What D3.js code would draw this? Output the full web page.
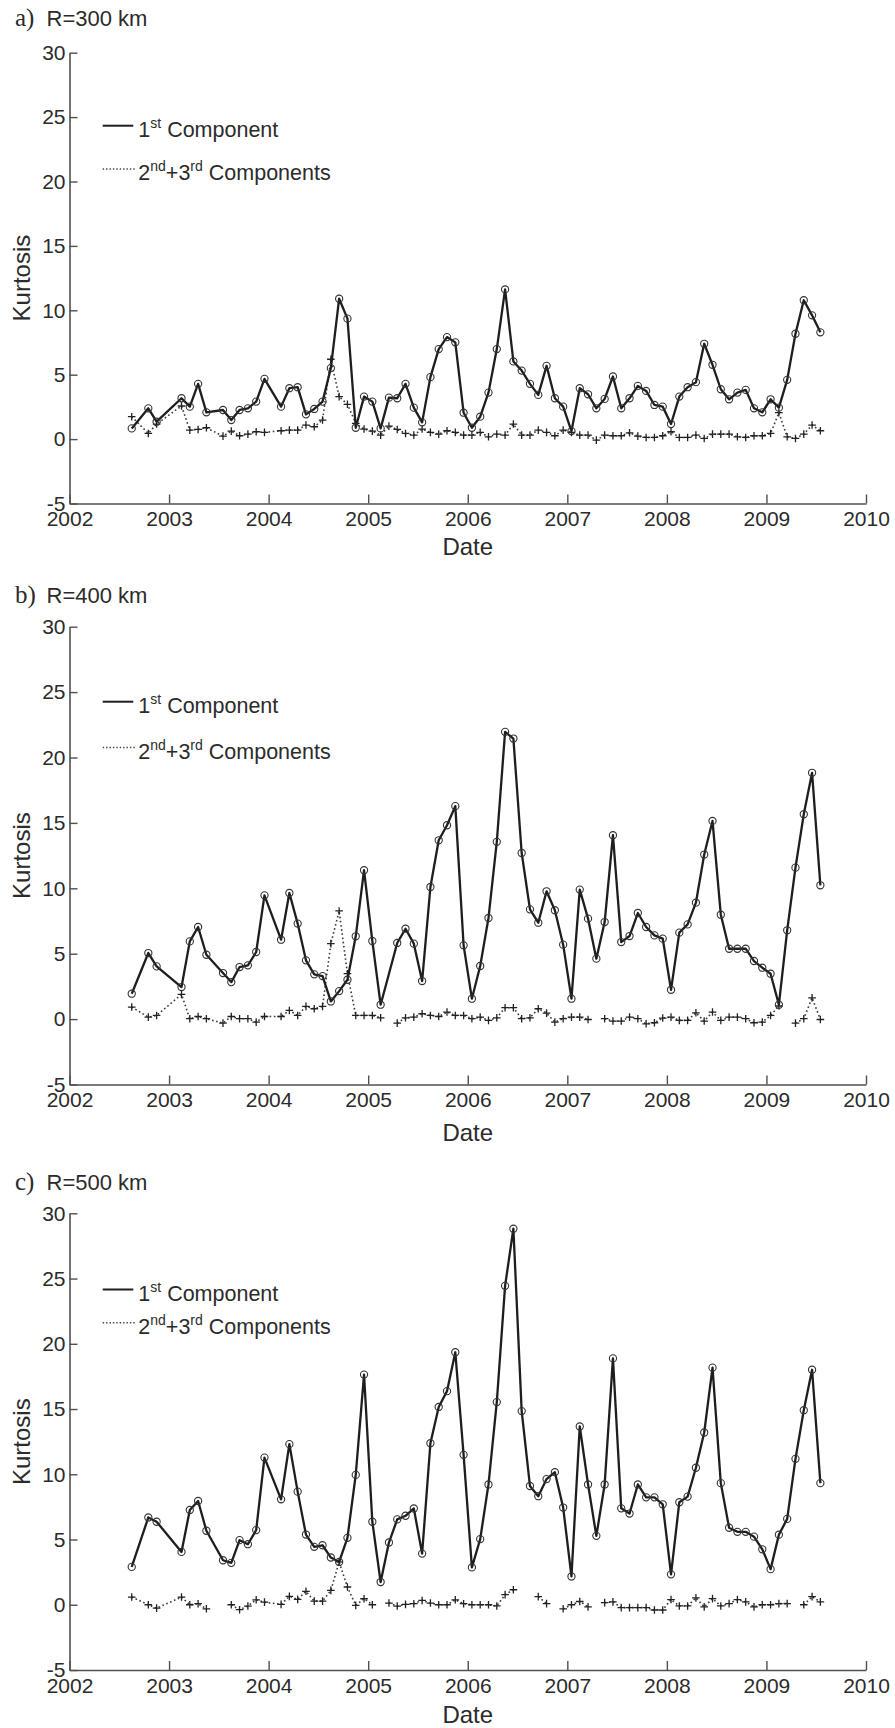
<!DOCTYPE html>
<html><head><meta charset="utf-8">
<script src="https://cdn.jsdelivr.net/npm/d3@7"></script>
<style>body{margin:0;background:#fff} svg{display:block}</style>
</head><body>
<svg id="c" width="895" height="1728"></svg>
<script>
// ---- data ----
const months = [
 "2002-08","2002-10","2002-11",
 "2003-02","2003-03","2003-04","2003-05","2003-07","2003-08","2003-09","2003-10","2003-11","2003-12",
 "2004-02","2004-03","2004-04","2004-05","2004-06","2004-07","2004-08","2004-09","2004-10","2004-11","2004-12",
 "2005-01","2005-02","2005-03","2005-04","2005-05","2005-06","2005-07","2005-08","2005-09","2005-10","2005-11","2005-12",
 "2006-01","2006-02","2006-03","2006-04","2006-05","2006-06","2006-07","2006-08","2006-09","2006-10","2006-11","2006-12",
 "2007-01","2007-02","2007-03","2007-04","2007-05","2007-06","2007-07","2007-08","2007-09","2007-10","2007-11","2007-12",
 "2008-01","2008-02","2008-03","2008-04","2008-05","2008-06","2008-07","2008-08","2008-09","2008-10","2008-11","2008-12",
 "2009-01","2009-02","2009-03","2009-04","2009-05","2009-06","2009-07"
];
const xTicks = [2002,2003,2004,2005,2006,2007,2008,2009,2010];
const yTicks = [-5,0,5,10,15,20,25,30];
const seriesNames = ["1st Component","2nd+3rd Components"];
const panelTitles = ["R=300 km","R=400 km","R=500 km"];
const panelLetters = ["a)","b)","c)"];

const first300 = [0.83,2.39,1.35,
 3.17,2.52,4.29,2.08,2.26,1.48,2.26,2.39,2.91,4.68,
 2.52,3.95,4.03,1.92,2.34,2.91,5.51,10.9,9.35,0.88,3.30,
 2.91,0.83,3.22,3.17,4.29,2.44,1.30,4.81,6.99,7.92,7.51,2.05,
 0.88,1.74,3.61,6.99,11.62,6.03,5.32,4.29,3.43,5.69,3.17,2.52,
 0.62,3.95,3.48,2.39,3.12,4.86,2.39,3.17,4.13,3.74,2.65,2.52,
 1.17,3.30,4.03,4.42,7.40,5.77,3.87,3.09,3.61,3.82,2.39,2.08,
 3.09,2.44,4.60,8.18,10.78,9.61,8.29];
const second300 = [1.74,0.44,1.17,
 2.57,0.70,0.75,0.88,0.23,0.62,0.26,0.39,0.57,0.52,
 0.65,0.70,0.70,1.09,0.96,1.48,6.2,3.30,2.70,1.22,0.78,
 0.62,0.31,1.01,0.75,0.44,0.31,0.78,0.52,0.39,0.65,0.52,0.31,
 0.31,0.52,0.18,0.39,0.31,1.17,0.31,0.31,0.70,0.52,0.26,0.70,
 0.52,0.31,0.31,-0.08,0.31,0.26,0.26,0.49,0.23,0.13,0.13,0.26,
 0.57,0.13,0.13,0.31,0.05,0.39,0.39,0.39,0.18,0.13,0.26,0.26,
 0.44,2.05,0.18,0.05,0.39,1.09,0.65];
const first400 = [1.94,5.05,4.03,
 2.45,5.94,7.04,4.92,3.52,2.83,3.98,4.11,5.13,9.46,
 6.07,9.64,7.30,4.49,3.42,3.29,1.35,2.14,3.01,6.33,11.38,
 5.97,1.10,null,5.82,6.91,5.77,2.91,10.1,13.67,14.82,16.28,5.64,
 1.56,4.06,7.73,13.55,21.96,21.45,12.70,8.39,7.37,9.77,8.32,5.69,
 1.56,9.90,7.68,4.62,7.42,14.06,5.89,6.35,8.11,7.04,6.40,6.15,
 2.24,6.61,7.24,8.90,12.58,15.15,7.98,5.38,5.38,5.38,4.44,3.93,
 3.47,1.10,6.79,11.58,15.66,18.83,10.23];
const second400 = [0.92,0.15,0.28,
 1.89,0.03,0.20,0.03,-0.31,0.20,0.03,0.03,-0.23,0.20,
 0.20,0.66,0.28,0.97,0.79,0.97,5.77,8.27,3.47,0.28,0.28,
 0.28,0.10,null,-0.31,0.10,0.15,0.41,0.28,0.20,0.54,0.28,0.28,
 0.03,0.15,-0.10,0.10,0.87,0.87,0.03,0.10,0.79,0.46,-0.23,0.03,
 0.15,0.15,-0.03,null,0.03,-0.15,-0.15,0.15,0.03,-0.36,-0.28,0.08,
 0.15,-0.10,-0.10,0.48,-0.15,0.54,-0.10,0.15,0.15,0.03,-0.28,-0.23,
 0.28,1.0,null,-0.31,0.03,1.63,-0.03];
const first500 = [2.90,6.69,6.36,
 4.05,7.26,7.95,5.67,3.41,3.21,4.95,4.64,5.72,11.28,
 8.08,12.31,8.67,5.38,4.44,4.56,3.62,3.28,5.13,9.95,17.64,
 6.36,1.74,4.77,6.54,6.82,7.38,3.92,12.38,15.16,16.37,19.35,11.49,
 2.86,5.03,9.22,15.53,24.44,28.82,14.84,9.10,8.32,9.63,10.16,7.45,
 2.17,13.66,9.22,5.28,9.22,18.88,7.39,6.99,9.22,8.23,8.23,7.70,
 2.33,7.86,8.29,10.50,13.20,18.17,9.32,5.90,5.59,5.59,5.22,4.25,
 2.73,5.37,6.58,11.18,14.91,18.01,9.32];
const second500 = [0.59,0.0,-0.26,
 0.59,0.0,0.08,-0.31,null,0.0,-0.38,-0.10,0.38,0.20,
 0.03,0.64,0.41,1.03,0.28,0.28,1.10,3.28,1.36,-0.05,0.46,
 0.0,null,0.13,-0.10,0.03,0.08,0.33,0.13,0.0,0.0,0.38,0.08,
 0.0,0.0,0.0,-0.09,0.78,1.15,null,null,0.62,0.09,null,-0.31,
 0.0,0.25,-0.16,null,0.16,0.22,-0.22,-0.22,-0.22,-0.22,-0.40,-0.40,
 0.40,-0.09,-0.09,0.53,-0.16,0.47,-0.09,0.09,0.40,0.22,-0.16,0.0,
 0.0,0.09,0.09,null,0.0,0.62,0.22];

// ---- layout ----
const svg = d3.select('#c');
const x = d3.scaleLinear().domain([2002,2010]).range([69.5,866]);
const toT = m => { const p = m.split('-').map(Number); return p[0] + (p[1]-0.5)/12; };
const times = months.map(toT);

const panels = [
 {first:first300, second:second300, top:52.7,  bottom:503.5, titleY:26,   dateY:555,   leg1:125.7, leg2:169},
 {first:first400, second:second400, top:626.7, bottom:1084.5,titleY:602.5,dateY:1140.5,leg1:701.7, leg2:747.5},
 {first:first500, second:second500, top:1213.3,bottom:1670,  titleY:1189.5,dateY:1723,  leg1:1289.5,leg2:1322.7}
];

const TXT = '#2b2b2b', AX = '#505050', LN = '#1e1e1e';
const SANS = "'Liberation Sans', Arial, sans-serif";
const SERIF = "'Liberation Serif', 'Times New Roman', serif";

panels.forEach((p, i) => {
  const y = d3.scaleLinear().domain([-5,30]).range([p.bottom, p.top]);
  const g = svg.append('g');

  // axes
  const xa = g.append('g').attr('transform', `translate(0,${p.bottom})`)
    .call(d3.axisBottom(x).tickValues(xTicks).tickFormat(d => String(d))
      .tickSizeInner(-9).tickSizeOuter(0).tickPadding(8));
  const ya = g.append('g').attr('transform', `translate(${x.range()[0]},0)`)
    .call(d3.axisLeft(y).tickValues(yTicks).tickFormat(d => String(d))
      .tickSizeInner(-8).tickSizeOuter(0).tickPadding(4));
  [xa, ya].forEach(a => {
    a.select('.domain').attr('stroke', AX).attr('stroke-width', 1.6);
    a.selectAll('.tick line').attr('stroke', AX).attr('stroke-width', 1.4);
    a.selectAll('.tick text').attr('fill', TXT).style('font-family', SANS).style('font-size', '21px');
  });

  // 2nd+3rd components (dotted with plus markers)
  const pts2 = times.map((t, j) => ({t, v: p.second[j]}));
  g.append('path').datum(pts2)
    .attr('d', d3.line().defined(d => d.v != null).x(d => x(d.t)).y(d => y(d.v)))
    .attr('fill', 'none').attr('stroke', '#3a3a3a').attr('stroke-width', 1.6)
    .attr('stroke-dasharray', '1.6,2.6');
  g.append('g').selectAll('path').data(pts2.filter(d => d.v != null)).join('path')
    .attr('d', d => { const cx = x(d.t), cy = y(d.v); return `M${cx-3.8},${cy}h7.6M${cx},${cy-3.8}v7.6`; })
    .attr('stroke', '#222').attr('stroke-width', 1.3).attr('fill', 'none');

  // 1st component (solid with circles)
  const pts1 = times.map((t, j) => ({t, v: p.first[j]})).filter(d => d.v != null);
  g.append('path').datum(pts1)
    .attr('d', d3.line().x(d => x(d.t)).y(d => y(d.v)))
    .attr('fill', 'none').attr('stroke', LN).attr('stroke-width', 2.3).attr('stroke-linejoin', 'round');
  g.append('g').selectAll('circle').data(pts1).join('circle')
    .attr('cx', d => x(d.t)).attr('cy', d => y(d.v)).attr('r', 3.6)
    .attr('fill', 'none').attr('stroke', '#333').attr('stroke-width', 1.1);

  // legend
  g.append('line').attr('x1', 102.7).attr('x2', 133.3).attr('y1', p.leg1).attr('y2', p.leg1)
    .attr('stroke', LN).attr('stroke-width', 2);
  g.append('line').attr('x1', 102.7).attr('x2', 135).attr('y1', p.leg2).attr('y2', p.leg2)
    .attr('stroke', '#444').attr('stroke-width', 1.4).attr('stroke-dasharray', '1.4,2');
  const t1 = g.append('text').attr('x', 138.3).attr('y', p.leg1 + 11)
    .attr('fill', TXT).style('font-family', SANS).style('font-size', '21.5px');
  t1.append('tspan').text('1');
  t1.append('tspan').attr('dy', -9).style('font-size', '14px').text('st');
  t1.append('tspan').attr('dy', 9).text(' Component');
  const t2 = g.append('text').attr('x', 138.3).attr('y', p.leg2 + 11)
    .attr('fill', TXT).style('font-family', SANS).style('font-size', '21.5px');
  t2.append('tspan').text('2');
  t2.append('tspan').attr('dy', -9).style('font-size', '14px').text('nd');
  t2.append('tspan').attr('dy', 9).text('+3');
  t2.append('tspan').attr('dy', -9).style('font-size', '14px').text('rd');
  t2.append('tspan').attr('dy', 9).text(' Components');

  // axis labels
  g.append('text').attr('x', (x.range()[0] + x.range()[1]) / 2).attr('y', p.dateY)
    .attr('text-anchor', 'middle').attr('fill', TXT)
    .style('font-family', SANS).style('font-size', '24px').text('Date');
  g.append('text')
    .attr('transform', `translate(29.5,${(p.top + p.bottom) / 2}) rotate(-90)`)
    .attr('text-anchor', 'middle').attr('fill', TXT)
    .style('font-family', SANS).style('font-size', '24px').text('Kurtosis');

  // panel title
  g.append('text').attr('x', 15).attr('y', p.titleY).attr('fill', TXT)
    .style('font-family', SERIF).style('font-size', '25px').text(panelLetters[i]);
  g.append('text').attr('x', 46.5).attr('y', p.titleY).attr('fill', TXT)
    .style('font-family', SANS).style('font-size', '22px').text(panelTitles[i]);
});
</script>
</body></html>
